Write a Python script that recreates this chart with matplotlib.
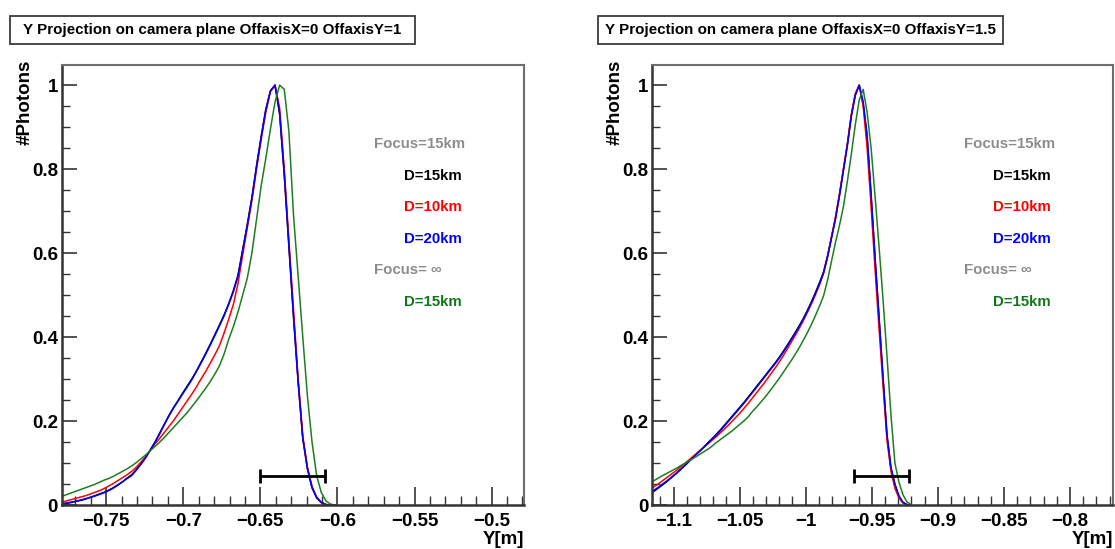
import numpy as np
import matplotlib
matplotlib.use("Agg")
import matplotlib.pyplot as plt
from matplotlib.ticker import MultipleLocator, FuncFormatter
from matplotlib.patches import Rectangle

plt.rcParams['font.family'] = ['Liberation Sans', 'DejaVu Sans']
plt.rcParams['font.weight'] = 'bold'

######### Data #########
# histogram binning (bin width 0.003 m), values given at bin centres
left_start, left_stop = -0.780, -0.600
right_start, right_stop = -1.120, -0.919
bin_width = 0.003

titles = ["Y Projection on camera plane OffaxisX=0 OffaxisY=1",
          "Y Projection on camera plane OffaxisX=0 OffaxisY=1.5"]
xlims = [(-0.779, -0.479), (-1.1165, -0.7675)]

# OffaxisY=1
left_black = [0.002, 0.004, 0.006, 0.009, 0.011, 0.014, 0.018, 0.022, 0.026, 0.030,
              0.035, 0.041, 0.048, 0.055, 0.064, 0.072, 0.084, 0.098, 0.113, 0.131,
              0.149, 0.170, 0.191, 0.212, 0.231, 0.248, 0.266, 0.283, 0.300, 0.319,
              0.340, 0.361, 0.383, 0.406, 0.429, 0.453, 0.480, 0.511, 0.548, 0.608,
              0.668, 0.733, 0.808, 0.878, 0.942, 0.987, 1.000, 0.930, 0.785, 0.615,
              0.447, 0.292, 0.158, 0.086, 0.041, 0.017, 0.006, 0.001, 0.000, 0.000]
left_red = [0.007, 0.010, 0.013, 0.016, 0.019, 0.022, 0.026, 0.030, 0.034, 0.039,
            0.045, 0.051, 0.058, 0.065, 0.072, 0.080, 0.090, 0.102, 0.115, 0.130,
            0.145, 0.158, 0.172, 0.186, 0.200, 0.216, 0.232, 0.248, 0.264, 0.281,
            0.300, 0.318, 0.338, 0.358, 0.380, 0.410, 0.443, 0.478, 0.528, 0.595,
            0.660, 0.725, 0.800, 0.870, 0.935, 0.985, 1.000, 0.945, 0.800, 0.630,
            0.465, 0.300, 0.165, 0.090, 0.044, 0.019, 0.007, 0.001, 0.000, 0.000]
left_blue = [0.003, 0.005, 0.007, 0.009, 0.012, 0.015, 0.018, 0.021, 0.025, 0.029,
             0.034, 0.040, 0.047, 0.055, 0.063, 0.070, 0.083, 0.097, 0.112, 0.130,
             0.148, 0.168, 0.190, 0.211, 0.230, 0.247, 0.264, 0.281, 0.298, 0.318,
             0.338, 0.359, 0.381, 0.404, 0.427, 0.451, 0.478, 0.508, 0.545, 0.605,
             0.665, 0.730, 0.805, 0.875, 0.940, 0.985, 1.000, 0.935, 0.790, 0.620,
             0.450, 0.295, 0.160, 0.088, 0.042, 0.018, 0.006, 0.001, 0.000, 0.000]
left_green = [0.021, 0.025, 0.029, 0.033, 0.037, 0.041, 0.045, 0.049, 0.054, 0.059,
              0.063, 0.068, 0.074, 0.080, 0.086, 0.093, 0.101, 0.110, 0.119, 0.129,
              0.139, 0.149, 0.160, 0.172, 0.184, 0.196, 0.208, 0.220, 0.234, 0.248,
              0.263, 0.278, 0.294, 0.312, 0.332, 0.360, 0.395, 0.425, 0.460, 0.500,
              0.540, 0.600, 0.680, 0.760, 0.825, 0.895, 0.960, 1.000, 0.990, 0.890,
              0.690, 0.545, 0.400, 0.260, 0.150, 0.070, 0.030, 0.010, 0.002, 0.000]

# OffaxisY=1.5
right_black = [0.025, 0.031, 0.038, 0.045, 0.052, 0.060, 0.068, 0.076, 0.085, 0.094,
               0.103, 0.113, 0.122, 0.131, 0.140, 0.150, 0.159, 0.169, 0.179, 0.190,
               0.201, 0.212, 0.223, 0.234, 0.245, 0.257, 0.269, 0.281, 0.293, 0.305,
               0.317, 0.329, 0.341, 0.354, 0.368, 0.383, 0.398, 0.413, 0.429, 0.446,
               0.465, 0.485, 0.507, 0.530, 0.555, 0.593, 0.638, 0.683, 0.738, 0.798,
               0.858, 0.928, 0.977, 1.000, 0.955, 0.875, 0.735, 0.585, 0.445, 0.302,
               0.165, 0.088, 0.048, 0.021, 0.006, 0.001, 0.000]
right_red = [0.036, 0.042, 0.048, 0.055, 0.062, 0.069, 0.076, 0.083, 0.091, 0.099,
             0.107, 0.115, 0.123, 0.131, 0.139, 0.147, 0.155, 0.163, 0.172, 0.181,
             0.190, 0.200, 0.210, 0.220, 0.231, 0.242, 0.254, 0.266, 0.278, 0.290,
             0.303, 0.316, 0.329, 0.343, 0.358, 0.374, 0.390, 0.406, 0.423, 0.441,
             0.460, 0.480, 0.502, 0.525, 0.552, 0.592, 0.638, 0.685, 0.740, 0.800,
             0.860, 0.930, 0.980, 1.000, 0.950, 0.850, 0.710, 0.560, 0.420, 0.285,
             0.155, 0.080, 0.040, 0.017, 0.005, 0.001, 0.000]
right_blue = [0.028, 0.034, 0.040, 0.047, 0.054, 0.061, 0.069, 0.077, 0.085, 0.094,
              0.103, 0.112, 0.121, 0.130, 0.139, 0.148, 0.158, 0.167, 0.177, 0.188,
              0.199, 0.210, 0.221, 0.232, 0.243, 0.255, 0.267, 0.279, 0.291, 0.303,
              0.315, 0.327, 0.339, 0.352, 0.366, 0.381, 0.396, 0.411, 0.427, 0.444,
              0.463, 0.483, 0.505, 0.527, 0.552, 0.590, 0.635, 0.680, 0.735, 0.795,
              0.855, 0.925, 0.975, 1.000, 0.960, 0.880, 0.740, 0.590, 0.448, 0.306,
              0.168, 0.090, 0.050, 0.022, 0.007, 0.001, 0.000]
right_green = [0.052, 0.057, 0.062, 0.068, 0.073, 0.078, 0.083, 0.088, 0.094, 0.099,
               0.105, 0.110, 0.116, 0.122, 0.128, 0.134, 0.141, 0.149, 0.156, 0.163,
               0.170, 0.177, 0.185, 0.193, 0.201, 0.210, 0.222, 0.232, 0.243, 0.254,
               0.266, 0.278, 0.291, 0.304, 0.318, 0.332, 0.346, 0.361, 0.377, 0.394,
               0.412, 0.431, 0.452, 0.474, 0.498, 0.535, 0.580, 0.625, 0.665, 0.710,
               0.770, 0.835, 0.905, 0.965, 0.990, 0.935, 0.850, 0.735, 0.615, 0.490,
               0.355, 0.215, 0.100, 0.055, 0.025, 0.008, 0.001]

# horizontal resolution bar [lo, hi, y]
left_bar = [-0.650, -0.608, 0.068]
right_bar = [-0.9635, -0.9216, 0.069]

labels = ["Focus=15km", "D=15km", "D=10km", "D=20km", "Focus= \u221e", "D=15km"]
#########################

line_colors = ['black', '#ff0000', '#0000ff', '#1e7d1e']
label_colors = ['#8c8c8c', 'black', '#ff0000', '#0000ff', '#8c8c8c', '#13751a']

W, H = 1115., 549.
fig = plt.figure(figsize=(W / 100, H / 100), dpi=100)


def fmt(v, pos):
    return ('%g' % round(v, 4)).replace('-', '\u2212')


def draw_panel(ax_rect, centers, series, bar, xlim, title, box_x):
    ax = fig.add_axes(ax_rect)
    for vals, c in zip(series, line_colors):
        ax.plot(centers, vals, color=c, lw=1.1)
    ax.errorbar([(bar[0] + bar[1]) / 2], [bar[2]], xerr=[(bar[1] - bar[0]) / 2],
                fmt='none', ecolor='black', elinewidth=2, capsize=5, capthick=2)
    ax.set_xlim(*xlim)
    ax.set_ylim(0, 1.048)
    ax.xaxis.set_major_locator(MultipleLocator(0.05))
    ax.xaxis.set_minor_locator(MultipleLocator(0.01))
    ax.yaxis.set_major_locator(MultipleLocator(0.2))
    ax.yaxis.set_minor_locator(MultipleLocator(0.05))
    ax.xaxis.set_major_formatter(FuncFormatter(fmt))
    ax.yaxis.set_major_formatter(FuncFormatter(fmt))
    ax.tick_params(which='both', direction='in', top=False, right=False,
                   labelsize=13.5, color='#333333')
    ax.tick_params(axis='x', which='major', length=13, width=1.2, pad=6)
    ax.tick_params(axis='x', which='minor', length=6.5, width=1.0)
    ax.tick_params(axis='y', which='major', length=11, width=1.2, pad=2.5)
    ax.tick_params(axis='y', which='minor', length=6, width=1.0)
    for lab in ax.get_xticklabels() + ax.get_yticklabels():
        lab.set_fontweight('bold')
    for s in ['bottom', 'left']:
        ax.spines[s].set_color('#333333')
        ax.spines[s].set_linewidth(1.8)
    for s in ['top', 'right']:
        ax.spines[s].set_color('#6e6e6e')
        ax.spines[s].set_linewidth(1.5)

    # text labels on the right
    ys = [0.820, 0.748, 0.677, 0.605, 0.534, 0.461]
    xs = [0.676, 0.740, 0.740, 0.740, 0.676, 0.740]
    for t, x, y, c in zip(labels, xs, ys, label_colors):
        ax.text(x, y, t, transform=ax.transAxes, color=c, fontsize=10.8,
                fontweight='bold', ha='left', va='center')

    ax.text(1.0, -0.079, "Y[m]", transform=ax.transAxes, ha='right', va='center',
            fontsize=13.5, fontweight='bold')
    ax.text(-36.5 / (ax_rect[2] * W), 1.012, "#Photons", transform=ax.transAxes,
            rotation=90, ha='center', va='top', fontsize=13.5, fontweight='bold')

    # title box
    fig.add_artist(Rectangle((box_x / W, 1 - 44 / H), 405 / W, 28 / H,
                             transform=fig.transFigure, facecolor='white',
                             edgecolor='#3c3c3c', lw=1.3))
    fig.text((box_x + 202.5) / W, 1 - 30 / H, title, ha='center', va='center',
             fontsize=10.9, fontweight='bold')
    return ax


left_edges = np.arange(left_start, left_stop + 1e-9, bin_width)
right_edges = np.arange(right_start, right_stop + 1e-9, bin_width)
left_centers = (left_edges[:-1] + left_edges[1:]) / 2
right_centers = (right_edges[:-1] + right_edges[1:]) / 2

draw_panel([61.5 / W, 44 / H, 462.5 / W, 440 / H], left_centers,
           [left_black, left_red, left_blue, left_green], left_bar, xlims[0], titles[0], 10)
draw_panel([651.7 / W, 44 / H, 461.3 / W, 440 / H], right_centers,
           [right_black, right_red, right_blue, right_green], right_bar, xlims[1], titles[1], 598)

fig.savefig("out.png", dpi=100)
